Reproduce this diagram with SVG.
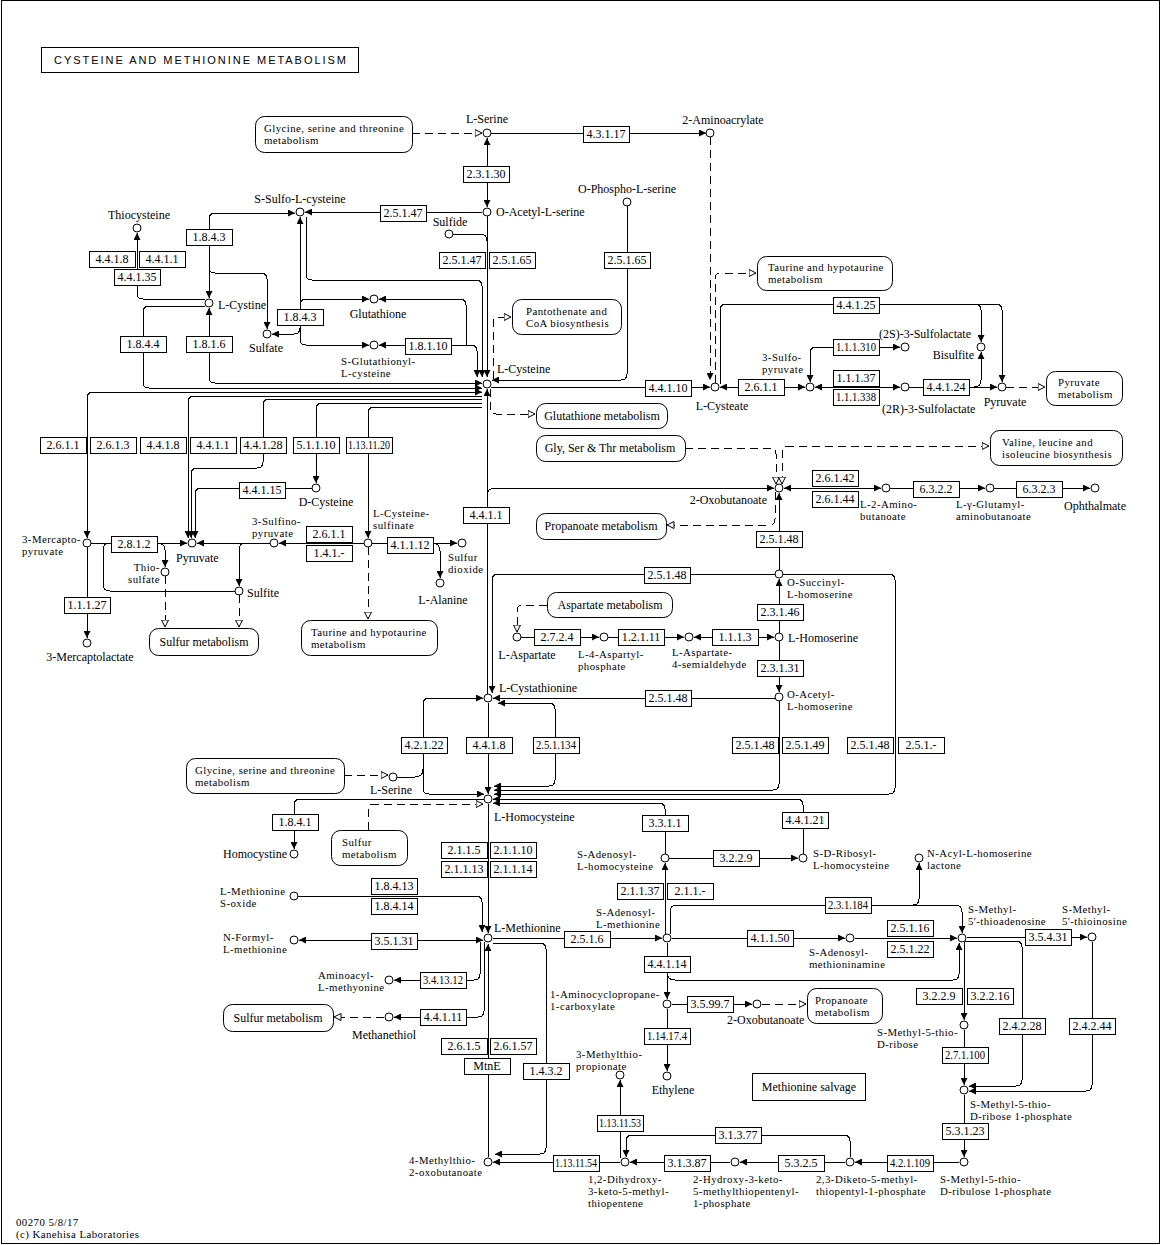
<svg xmlns="http://www.w3.org/2000/svg" width="1162" height="1245" viewBox="0 0 1162 1245">
<style>
text{font-family:"Liberation Serif","Times New Roman",serif;font-size:12px;fill:#000}
.ml{font-size:10.8px;letter-spacing:0.45px}
.mid{text-anchor:middle}
.end{text-anchor:end}
.en rect{fill:#fff;stroke:#000;stroke-width:1;shape-rendering:crispEdges}
.en text{text-anchor:middle}
.cp circle{fill:#fff;stroke:#000;stroke-width:1}
.mp rect{fill:#fff;stroke:#000;stroke-width:1}
#connectors path{fill:none;stroke:#000;stroke-width:1;shape-rendering:crispEdges}
#connectors .d{stroke-dasharray:8 5}
.ae{marker-end:url(#a)}
.as{marker-start:url(#a)}
.oe{marker-end:url(#o)}
.os{marker-start:url(#o)}
</style>
<defs>
<marker id="a" viewBox="0 0 7 7" refX="7" refY="3.5" markerWidth="7" markerHeight="7" markerUnits="userSpaceOnUse" orient="auto-start-reverse"><path d="M0,0L7,3.5L0,7z" fill="#000"/></marker>
<marker id="o" viewBox="0 0 8 8" refX="7.5" refY="4" markerWidth="8" markerHeight="8" markerUnits="userSpaceOnUse" orient="auto-start-reverse"><path d="M0.5,0.5L7.5,4L0.5,7.5z" fill="#fff" stroke="#000" stroke-width="1"/></marker>
</defs>
<rect x="1.5" y="0.5" width="1158" height="1243" fill="#fff" stroke="#000"/>
<g id="title"><rect x="41.5" y="47.5" width="317" height="25" fill="#fff" stroke="#000"/><text x="200" y="64" class="mid" style="font-family:'Liberation Sans',Arial,sans-serif;font-size:11px" textLength="292" lengthAdjust="spacing">CYSTEINE  AND  METHIONINE  METABOLISM</text></g>

<g id="connectors">
<path class="d oe" d="M412,133H482"/>
<path class="ae" d="M491,133H706"/>
<path class="as ae" d="M487,138V207"/>
<path class="ae" d="M482,212H305"/>
<path d="M453,234H480Q487,234 487,241"/>
<path class="ae" d="M487,216V377"/>
<path class="ae" d="M627,206V374Q627,380 621,380H492"/>
<path class="d ae" d="M710,137V380"/>
<path class="d oe" d="M715,383V279Q715,273 721,273H756"/>
<path class="ae" d="M720,384V310Q720,304 726,304H975Q981,304 981,310V342"/>
<path class="ae" d="M975,304H996Q1002,304 1002,310V382"/>
<path class="ae" d="M491,387H710"/>
<path class="as ae" d="M720,387H805"/>
<path class="as ae" d="M815,387H900"/>
<path class="as ae" d="M810,382V353Q810,347 816,347H900"/>
<path class="ae" d="M909,387H997"/>
<path class="ae" d="M974,387Q981,387 981,380V352"/>
<path class="d oe" d="M1006,387H1045"/>
<path class="ae" d="M137,269V233"/>
<path d="M137,285V293Q137,299 143,299H205"/>
<path class="as ae" d="M295,213H215Q209,213 209,219V298"/>
<path class="ae" d="M209,267Q209,273 215,273H261Q267,273 267,279V329"/>
<path class="as ae" d="M300,217V339Q300,345 306,345H369"/>
<path class="ae" d="M300,305Q300,299 306,299H369"/>
<path class="ae" d="M300,328Q300,334 294,334H272"/>
<path class="ae" d="M306,217V274Q306,280 312,280H476Q482,280 482,286V377"/>
<path class="as" d="M379,299H460Q466,299 466,305V345"/>
<path class="as ae" d="M379,345H471Q477,345 477,351V377"/>
<path class="as ae" d="M209,308V377Q209,383 215,383H482"/>
<path class="ae" d="M205,306H149Q143,306 143,312V382Q143,388 149,388H482"/>
<path class="as ae" d="M87,538V398Q87,392 93,392H482"/>
<path d="M482,396H194Q188,396 188,402V537"/>
<path class="ae" d="M188,500V538"/>
<path class="ae" d="M482,399H269Q263,399 263,405V462Q263,468 257,468H197Q191,468 191,474V538"/>
<path class="ae" d="M312,488H201Q195,488 195,494V538"/>
<path class="ae" d="M482,403H322Q316,403 316,409V483"/>
<path class="ae" d="M482,407H374Q368,407 368,413V538"/>
<path class="ae" d="M91,543H187"/>
<path class="ae" d="M157,543Q165,543 165,550V567"/>
<path d="M110,543Q103,543 103,550V584Q103,591 110,591H235"/>
<path class="ae" d="M270,543H197"/>
<path class="ae" d="M246,543Q239,543 239,550V586"/>
<path class="ae" d="M364,543H279"/>
<path class="ae" d="M372,543H457"/>
<path class="ae" d="M432,543Q440,543 440,551V578"/>
<path class="d oe" d="M368,547V619"/>
<path class="d oe" d="M165,576V627"/>
<path class="d oe" d="M239,595V627"/>
<path class="ae" d="M87,547V638"/>
<path class="d oe" d="M490,389V408Q490,414 496,414H535"/>
<path class="d oe" d="M493,379V323Q493,317 499,317H511"/>
<path class="as" d="M487,389V694"/>
<path class="ae" d="M487,496Q487,488 495,488H774"/>
<path class="d oe" d="M685,448H770Q776,448 776,454V484"/>
<path class="d os oe" d="M782,484V452Q782,446 788,446H989"/>
<path class="d oe" d="M775,492V519Q775,525 769,525H667"/>
<path class="ae" d="M779,570V493"/>
<path class="as ae" d="M784,488H881"/>
<path class="ae" d="M890,488H985"/>
<path class="ae" d="M994,488H1090"/>
<path class="ae" d="M775,574H498Q492,574 492,580V693"/>
<path class="ae" d="M783,574H889Q895,574 895,580V788Q895,794 889,794H494"/>
<path class="ae" d="M779,633V579"/>
<path class="ae" d="M779,641V692"/>
<path class="d oe" d="M547,605H523Q517,605 517,611V632"/>
<path class="ae" d="M521,637H599"/>
<path class="ae" d="M608,637H684"/>
<path class="as ae" d="M694,637H774"/>
<path class="ae" d="M775,698H493"/>
<path class="as ae" d="M498,703H549Q555,703 555,709V780Q555,786 549,786H494"/>
<path class="as ae" d="M483,698H429Q423,698 423,704V788Q423,794 429,794H484"/>
<path d="M397,777H415Q423,777 423,769"/>
<path class="d oe" d="M344,775H388"/>
<path class="ae" d="M488,703V794"/>
<path class="ae" d="M779,701V784Q779,790 773,790H494"/>
<path class="ae" d="M803,854V805Q803,799 797,799H493"/>
<path class="ae" d="M665,854V809Q665,803 659,803H493"/>
<path class="d oe" d="M368,830V810Q368,804 374,804H483"/>
<path class="ae" d="M484,799H300Q294,799 294,805V849"/>
<path class="ae" d="M488,804V933"/>
<path class="ae" d="M298,896H476Q482,896 482,902V932"/>
<path class="as ae" d="M299,940H483"/>
<path class="ae" d="M493,938H662"/>
<path class="ae" d="M665,934V863"/>
<path class="ae" d="M669,858H798"/>
<path class="ae" d="M670,934V912Q670,905 677,905H913Q919,905 919,899V863"/>
<path class="ae" d="M913,905H955Q962,905 962,912V933"/>
<path class="ae" d="M672,938H845"/>
<path class="ae" d="M855,938H957"/>
<path class="ae" d="M967,937H1087"/>
<path class="ae" d="M965,941H1016Q1022,941 1022,947V1080Q1022,1086 1016,1086H969"/>
<path class="ae" d="M1092,942V1085Q1092,1091 1086,1091H969"/>
<path class="ae" d="M964,942V1020"/>
<path class="ae" d="M667,972Q667,980 675,980H953Q959,980 959,974V943"/>
<path class="ae" d="M667,943V999"/>
<path class="ae" d="M672,1004H752"/>
<path class="d oe" d="M762,1004H806"/>
<path class="ae" d="M667,1009V1071"/>
<path class="ae" d="M964,1030V1085"/>
<path class="ae" d="M964,1095V1157"/>
<path class="ae" d="M959,1162H855"/>
<path class="ae" d="M845,1162H740"/>
<path class="ae" d="M850,1157V1141Q850,1135 844,1135H632Q626,1135 626,1141V1157"/>
<path class="ae" d="M730,1162H630"/>
<path class="ae" d="M620,1158V1080"/>
<path class="ae" d="M620,1162H493"/>
<path class="ae" d="M493,943H540Q546,943 546,949V1148Q546,1154 540,1154H495"/>
<path class="ae" d="M488,1157V944"/>
<path class="ae" d="M480,942V974Q480,980 474,980H394"/>
<path class="ae" d="M484,942V1011Q484,1017 478,1017H394"/>
<path class="d oe" d="M384,1017H334"/>
</g>

<g id="maps">
<g id="m_gst1" class="mp"><rect x="255.5" y="116.5" width="157" height="36" rx="9"/><text class="ml" x="264" y="132">Glycine, serine and threonine<tspan x="264" dy="12">metabolism</tspan></text></g>
<g id="m_tau1" class="mp"><rect x="757.5" y="256.5" width="135" height="34" rx="9"/><text class="ml" x="768" y="271">Taurine and hypotaurine<tspan x="768" dy="12">metabolism</tspan></text></g>
<g id="m_pant" class="mp"><rect x="512.5" y="299.5" width="109" height="35" rx="9"/><text class="ml" x="526" y="315">Pantothenate and<tspan x="526" dy="12">CoA biosynthesis</tspan></text></g>
<g id="m_pyr" class="mp"><rect x="1046.5" y="371.5" width="76" height="34" rx="9"/><text class="ml" x="1058" y="386">Pyruvate<tspan x="1058" dy="12">metabolism</tspan></text></g>
<g id="m_glu" class="mp"><rect x="536.5" y="403.5" width="131" height="25" rx="9"/><text x="602" y="420" class="mid">Glutathione metabolism</text></g>
<g id="m_gst2" class="mp"><rect x="536.5" y="435.5" width="149" height="26" rx="9"/><text x="610" y="452" class="mid">Gly, Ser &amp; Thr  metabolism</text></g>
<g id="m_val" class="mp"><rect x="990.5" y="430.5" width="132" height="35" rx="9"/><text class="ml" x="1002" y="446">Valine, leucine and<tspan x="1002" dy="12">isoleucine biosynthesis</tspan></text></g>
<g id="m_prop1" class="mp"><rect x="536.5" y="513.5" width="130" height="26" rx="9"/><text x="601" y="530" class="mid">Propanoate metabolism</text></g>
<g id="m_sul1" class="mp"><rect x="149.5" y="628.5" width="109" height="27" rx="9"/><text x="204" y="646" class="mid">Sulfur metabolism</text></g>
<g id="m_tau2" class="mp"><rect x="301.5" y="620.5" width="136" height="35" rx="9"/><text class="ml" x="311" y="636">Taurine and hypotaurine<tspan x="311" dy="12">metabolism</tspan></text></g>
<g id="m_asp" class="mp"><rect x="547.5" y="592.5" width="125" height="25" rx="9"/><text x="610" y="609" class="mid">Aspartate metabolism</text></g>
<g id="m_gst3" class="mp"><rect x="186.5" y="758.5" width="158" height="35" rx="9"/><text class="ml" x="195" y="774">Glycine, serine and threonine<tspan x="195" dy="12">metabolism</tspan></text></g>
<g id="m_sul2" class="mp"><rect x="331.5" y="830.5" width="76" height="35" rx="9"/><text class="ml" x="342" y="846">Sulfur<tspan x="342" dy="12">metabolism</tspan></text></g>
<g id="m_sul3" class="mp"><rect x="223.5" y="1004.5" width="110" height="27" rx="9"/><text x="278" y="1022" class="mid">Sulfur metabolism</text></g>
<g id="m_prop2" class="mp"><rect x="807.5" y="988.5" width="75" height="35" rx="9"/><text class="ml" x="815" y="1004">Propanoate<tspan x="815" dy="12">metabolism</tspan></text></g>
<g id="m_salv"><rect x="752.5" y="1073.5" width="113" height="27" fill="#fff" stroke="#000"/><text x="809" y="1091" class="mid">Methionine  salvage</text></g>
</g>

<g id="enzymes">
<g id="e01" class="en"><rect x="583" y="126" width="46" height="16"/><text x="606" y="138">4.3.1.17</text></g>
<g id="e02" class="en"><rect x="463" y="166" width="46" height="16"/><text x="486" y="178">2.3.1.30</text></g>
<g id="e03" class="en"><rect x="380" y="205" width="46" height="16"/><text x="403" y="217">2.5.1.47</text></g>
<g id="e04" class="en"><rect x="439" y="252" width="46" height="16"/><text x="462" y="264">2.5.1.47</text></g>
<g id="e05" class="en"><rect x="489" y="252" width="46" height="16"/><text x="512" y="264">2.5.1.65</text></g>
<g id="e06" class="en"><rect x="604" y="252" width="46" height="16"/><text x="627" y="264">2.5.1.65</text></g>
<g id="e07" class="en"><rect x="186" y="229" width="46" height="16"/><text x="209" y="241">1.8.4.3</text></g>
<g id="e08" class="en"><rect x="89" y="251" width="46" height="16"/><text x="112" y="263">4.4.1.8</text></g>
<g id="e09" class="en"><rect x="139" y="251" width="46" height="16"/><text x="162" y="263">4.4.1.1</text></g>
<g id="e10" class="en"><rect x="114" y="269" width="46" height="16"/><text x="137" y="281">4.4.1.35</text></g>
<g id="e11" class="en"><rect x="277" y="309" width="46" height="16"/><text x="300" y="321">1.8.4.3</text></g>
<g id="e12" class="en"><rect x="120" y="336" width="46" height="16"/><text x="143" y="348">1.8.4.4</text></g>
<g id="e13" class="en"><rect x="186" y="336" width="46" height="16"/><text x="209" y="348">1.8.1.6</text></g>
<g id="e14" class="en"><rect x="405" y="338" width="46" height="16"/><text x="428" y="350">1.8.1.10</text></g>
<g id="e15" class="en"><rect x="833" y="297" width="46" height="16"/><text x="856" y="309">4.4.1.25</text></g>
<g id="e16" class="en"><rect x="833" y="339" width="46" height="16"/><text x="856" y="351" textLength="40" lengthAdjust="spacingAndGlyphs">1.1.1.310</text></g>
<g id="e17" class="en"><rect x="645" y="380" width="46" height="16"/><text x="668" y="392">4.4.1.10</text></g>
<g id="e18" class="en"><rect x="738" y="379" width="46" height="16"/><text x="761" y="391">2.6.1.1</text></g>
<g id="e19" class="en"><rect x="833" y="370" width="46" height="16"/><text x="856" y="382">1.1.1.37</text></g>
<g id="e20" class="en"><rect x="833" y="389" width="46" height="16"/><text x="856" y="401" textLength="40" lengthAdjust="spacingAndGlyphs">1.1.1.338</text></g>
<g id="e21" class="en"><rect x="923" y="379" width="46" height="16"/><text x="946" y="391">4.4.1.24</text></g>
<g id="e22" class="en"><rect x="40" y="437" width="46" height="16"/><text x="63" y="449">2.6.1.1</text></g>
<g id="e23" class="en"><rect x="90" y="437" width="46" height="16"/><text x="113" y="449">2.6.1.3</text></g>
<g id="e24" class="en"><rect x="140" y="437" width="46" height="16"/><text x="163" y="449">4.4.1.8</text></g>
<g id="e25" class="en"><rect x="190" y="437" width="46" height="16"/><text x="213" y="449">4.4.1.1</text></g>
<g id="e26" class="en"><rect x="240" y="437" width="46" height="16"/><text x="263" y="449">4.4.1.28</text></g>
<g id="e27" class="en"><rect x="293" y="437" width="46" height="16"/><text x="316" y="449">5.1.1.10</text></g>
<g id="e28" class="en"><rect x="346" y="437" width="46" height="16"/><text x="369" y="449" textLength="42" lengthAdjust="spacingAndGlyphs">1.13.11.20</text></g>
<g id="e29" class="en"><rect x="239" y="482" width="46" height="16"/><text x="262" y="494">4.4.1.15</text></g>
<g id="e30" class="en"><rect x="111" y="536" width="46" height="16"/><text x="134" y="548">2.8.1.2</text></g>
<g id="e31" class="en"><rect x="306" y="526" width="46" height="16"/><text x="329" y="538">2.6.1.1</text></g>
<g id="e32" class="en"><rect x="306" y="545" width="46" height="16"/><text x="329" y="557">1.4.1.-</text></g>
<g id="e33" class="en"><rect x="387" y="537" width="46" height="16"/><text x="410" y="549">4.1.1.12</text></g>
<g id="e34" class="en"><rect x="64" y="597" width="46" height="16"/><text x="87" y="609">1.1.1.27</text></g>
<g id="e35" class="en"><rect x="463" y="507" width="46" height="16"/><text x="486" y="519">4.4.1.1</text></g>
<g id="e36" class="en"><rect x="812" y="470" width="46" height="16"/><text x="835" y="482">2.6.1.42</text></g>
<g id="e37" class="en"><rect x="812" y="491" width="46" height="16"/><text x="835" y="503">2.6.1.44</text></g>
<g id="e38" class="en"><rect x="913" y="481" width="46" height="16"/><text x="936" y="493">6.3.2.2</text></g>
<g id="e39" class="en"><rect x="1016" y="481" width="46" height="16"/><text x="1039" y="493">6.3.2.3</text></g>
<g id="e40" class="en"><rect x="756" y="531" width="46" height="16"/><text x="779" y="543">2.5.1.48</text></g>
<g id="e41" class="en"><rect x="644" y="567" width="46" height="16"/><text x="667" y="579">2.5.1.48</text></g>
<g id="e42" class="en"><rect x="757" y="604" width="46" height="16"/><text x="780" y="616">2.3.1.46</text></g>
<g id="e43" class="en"><rect x="534" y="629" width="46" height="16"/><text x="557" y="641">2.7.2.4</text></g>
<g id="e44" class="en"><rect x="618" y="629" width="46" height="16"/><text x="641" y="641">1.2.1.11</text></g>
<g id="e45" class="en"><rect x="712" y="629" width="46" height="16"/><text x="735" y="641">1.1.1.3</text></g>
<g id="e46" class="en"><rect x="757" y="660" width="46" height="16"/><text x="780" y="672">2.3.1.31</text></g>
<g id="e47" class="en"><rect x="645" y="690" width="46" height="16"/><text x="668" y="702">2.5.1.48</text></g>
<g id="e48" class="en"><rect x="401" y="737" width="46" height="16"/><text x="424" y="749">4.2.1.22</text></g>
<g id="e49" class="en"><rect x="466" y="737" width="46" height="16"/><text x="489" y="749">4.4.1.8</text></g>
<g id="e50" class="en"><rect x="533" y="737" width="46" height="16"/><text x="556" y="749" textLength="40" lengthAdjust="spacingAndGlyphs">2.5.1.134</text></g>
<g id="e51" class="en"><rect x="732" y="737" width="46" height="16"/><text x="755" y="749">2.5.1.48</text></g>
<g id="e52" class="en"><rect x="782" y="737" width="46" height="16"/><text x="805" y="749">2.5.1.49</text></g>
<g id="e53" class="en"><rect x="847" y="737" width="46" height="16"/><text x="870" y="749">2.5.1.48</text></g>
<g id="e54" class="en"><rect x="898" y="737" width="46" height="16"/><text x="921" y="749">2.5.1.-</text></g>
<g id="e55" class="en"><rect x="272" y="814" width="46" height="16"/><text x="295" y="826">1.8.4.1</text></g>
<g id="e56" class="en"><rect x="642" y="815" width="46" height="16"/><text x="665" y="827">3.3.1.1</text></g>
<g id="e57" class="en"><rect x="782" y="812" width="46" height="16"/><text x="805" y="824">4.4.1.21</text></g>
<g id="e58" class="en"><rect x="441" y="842" width="46" height="16"/><text x="464" y="854">2.1.1.5</text></g>
<g id="e59" class="en"><rect x="490" y="842" width="46" height="16"/><text x="513" y="854">2.1.1.10</text></g>
<g id="e60" class="en"><rect x="441" y="861" width="46" height="16"/><text x="464" y="873">2.1.1.13</text></g>
<g id="e61" class="en"><rect x="490" y="861" width="46" height="16"/><text x="513" y="873">2.1.1.14</text></g>
<g id="e62" class="en"><rect x="713" y="850" width="46" height="16"/><text x="736" y="862">3.2.2.9</text></g>
<g id="e63" class="en"><rect x="371" y="878" width="46" height="16"/><text x="394" y="890">1.8.4.13</text></g>
<g id="e64" class="en"><rect x="371" y="898" width="46" height="16"/><text x="394" y="910">1.8.4.14</text></g>
<g id="e65" class="en"><rect x="617" y="883" width="46" height="16"/><text x="640" y="895">2.1.1.37</text></g>
<g id="e66" class="en"><rect x="667" y="883" width="46" height="16"/><text x="690" y="895">2.1.1.-</text></g>
<g id="e67" class="en"><rect x="825" y="897" width="46" height="16"/><text x="848" y="909" textLength="40" lengthAdjust="spacingAndGlyphs">2.3.1.184</text></g>
<g id="e68" class="en"><rect x="887" y="920" width="46" height="16"/><text x="910" y="932">2.5.1.16</text></g>
<g id="e69" class="en"><rect x="887" y="941" width="46" height="16"/><text x="910" y="953">2.5.1.22</text></g>
<g id="e70" class="en"><rect x="371" y="933" width="46" height="16"/><text x="394" y="945">3.5.1.31</text></g>
<g id="e71" class="en"><rect x="564" y="931" width="46" height="16"/><text x="587" y="943">2.5.1.6</text></g>
<g id="e72" class="en"><rect x="747" y="930" width="46" height="16"/><text x="770" y="942">4.1.1.50</text></g>
<g id="e73" class="en"><rect x="1025" y="929" width="46" height="16"/><text x="1048" y="941">3.5.4.31</text></g>
<g id="e74" class="en"><rect x="644" y="956" width="46" height="16"/><text x="667" y="968">4.4.1.14</text></g>
<g id="e75" class="en"><rect x="420" y="972" width="46" height="16"/><text x="443" y="984" textLength="40" lengthAdjust="spacingAndGlyphs">3.4.13.12</text></g>
<g id="e76" class="en"><rect x="687" y="996" width="46" height="16"/><text x="710" y="1008">3.5.99.7</text></g>
<g id="e77" class="en"><rect x="916" y="988" width="46" height="16"/><text x="939" y="1000">3.2.2.9</text></g>
<g id="e78" class="en"><rect x="967" y="988" width="46" height="16"/><text x="990" y="1000">3.2.2.16</text></g>
<g id="e79" class="en"><rect x="420" y="1009" width="46" height="16"/><text x="443" y="1021">4.4.1.11</text></g>
<g id="e80" class="en"><rect x="999" y="1018" width="46" height="16"/><text x="1022" y="1030">2.4.2.28</text></g>
<g id="e81" class="en"><rect x="1069" y="1018" width="46" height="16"/><text x="1092" y="1030">2.4.2.44</text></g>
<g id="e82" class="en"><rect x="644" y="1028" width="46" height="16"/><text x="667" y="1040" textLength="40" lengthAdjust="spacingAndGlyphs">1.14.17.4</text></g>
<g id="e83" class="en"><rect x="441" y="1038" width="46" height="16"/><text x="464" y="1050">2.6.1.5</text></g>
<g id="e84" class="en"><rect x="490" y="1038" width="46" height="16"/><text x="513" y="1050">2.6.1.57</text></g>
<g id="e85" class="en"><rect x="942" y="1047" width="46" height="16"/><text x="965" y="1059" textLength="40" lengthAdjust="spacingAndGlyphs">2.7.1.100</text></g>
<g id="e86" class="en"><rect x="464" y="1058" width="46" height="16"/><text x="487" y="1070">MtnE</text></g>
<g id="e87" class="en"><rect x="523" y="1063" width="46" height="16"/><text x="546" y="1075">1.4.3.2</text></g>
<g id="e88" class="en"><rect x="597" y="1115" width="46" height="16"/><text x="620" y="1127" textLength="42" lengthAdjust="spacingAndGlyphs">1.13.11.53</text></g>
<g id="e89" class="en"><rect x="715" y="1127" width="46" height="16"/><text x="738" y="1139">3.1.3.77</text></g>
<g id="e90" class="en"><rect x="942" y="1123" width="46" height="16"/><text x="965" y="1135">5.3.1.23</text></g>
<g id="e91" class="en"><rect x="553" y="1155" width="46" height="16"/><text x="576" y="1167" textLength="42" lengthAdjust="spacingAndGlyphs">1.13.11.54</text></g>
<g id="e92" class="en"><rect x="664" y="1155" width="46" height="16"/><text x="687" y="1167">3.1.3.87</text></g>
<g id="e93" class="en"><rect x="778" y="1155" width="46" height="16"/><text x="801" y="1167">5.3.2.5</text></g>
<g id="e94" class="en"><rect x="887" y="1155" width="46" height="16"/><text x="910" y="1167" textLength="40" lengthAdjust="spacingAndGlyphs">4.2.1.109</text></g>
</g>

<g id="compounds">
<g id="c01" class="cp"><circle cx="487" cy="133" r="4"/><text x="487" y="123" class="mid">L-Serine</text></g>
<g id="c02" class="cp"><circle cx="710" cy="133" r="4"/><text x="723" y="124" class="mid">2-Aminoacrylate</text></g>
<g id="c03" class="cp"><circle cx="487" cy="212" r="4"/><text x="496" y="216">O-Acetyl-L-serine</text></g>
<g id="c04" class="cp"><circle cx="300" cy="212" r="4"/><text x="300" y="203" class="mid">S-Sulfo-L-cysteine</text></g>
<g id="c05" class="cp"><circle cx="449" cy="234" r="4"/><text x="450" y="226" class="mid">Sulfide</text></g>
<g id="c06" class="cp"><circle cx="627" cy="202" r="4"/><text x="627" y="193" class="mid">O-Phospho-L-serine</text></g>
<g id="c07" class="cp"><circle cx="137" cy="228" r="4"/><text x="139" y="219" class="mid">Thiocysteine</text></g>
<g id="c08" class="cp"><circle cx="209" cy="303" r="4"/><text x="218" y="309">L-Cystine</text></g>
<g id="c09" class="cp"><circle cx="267" cy="334" r="4"/><text x="266" y="352" class="mid">Sulfate</text></g>
<g id="c10" class="cp"><circle cx="374" cy="299" r="4"/><text x="378" y="318" class="mid">Glutathione</text></g>
<g id="c11" class="cp"><circle cx="374" cy="345" r="4"/><text class="ml" x="341" y="365">S-Glutathionyl-<tspan x="341" dy="12">L-cysteine</tspan></text></g>
<g id="c12" class="cp"><circle cx="487" cy="384" r="4"/><text x="497" y="373">L-Cysteine</text></g>
<g id="c13" class="cp"><circle cx="715" cy="387" r="4"/><text x="722" y="410" class="mid">L-Cysteate</text></g>
<g id="c14" class="cp"><circle cx="810" cy="387" r="4"/><text class="ml" x="762" y="361">3-Sulfo-<tspan x="762" dy="12">pyruvate</tspan></text></g>
<g id="c15" class="cp"><circle cx="905" cy="347" r="4"/><text x="879" y="338">(2S)-3-Sulfolactate</text></g>
<g id="c16" class="cp"><circle cx="905" cy="387" r="4"/><text x="882" y="413">(2R)-3-Sulfolactate</text></g>
<g id="c17" class="cp"><circle cx="981" cy="347" r="4"/><text x="974" y="359" class="end">Bisulfite</text></g>
<g id="c18" class="cp"><circle cx="1002" cy="387" r="4"/><text x="1005" y="406" class="mid">Pyruvate</text></g>
<g id="c19" class="cp"><circle cx="316" cy="488" r="4"/><text x="326" y="506" class="mid">D-Cysteine</text></g>
<g id="c20" class="cp"><circle cx="87" cy="543" r="4"/><text class="ml" x="22" y="543">3-Mercapto-<tspan x="22" dy="12">pyruvate</tspan></text></g>
<g id="c21" class="cp"><circle cx="192" cy="543" r="4"/><text x="176" y="562">Pyruvate</text></g>
<g id="c22" class="cp"><circle cx="165" cy="572" r="4"/><text class="ml end" x="160" y="571">Thio-<tspan x="160" dy="12">sulfate</tspan></text></g>
<g id="c23" class="cp"><circle cx="239" cy="591" r="4"/><text x="247" y="597">Sulfite</text></g>
<g id="c24" class="cp"><circle cx="274" cy="543" r="4"/><text class="ml" x="252" y="525">3-Sulfino-<tspan x="252" dy="12">pyruvate</tspan></text></g>
<g id="c25" class="cp"><circle cx="368" cy="543" r="4"/><text class="ml" x="373" y="517">L-Cysteine-<tspan x="373" dy="12">sulfinate</tspan></text></g>
<g id="c26" class="cp"><circle cx="462" cy="543" r="4"/><text class="ml" x="448" y="561">Sulfur<tspan x="448" dy="12">dioxide</tspan></text></g>
<g id="c27" class="cp"><circle cx="440" cy="583" r="4"/><text x="443" y="604" class="mid">L-Alanine</text></g>
<g id="c28" class="cp"><circle cx="87" cy="643" r="4"/><text x="90" y="661" class="mid">3-Mercaptolactate</text></g>
<g id="c29" class="cp"><circle cx="779" cy="488" r="4"/><text x="767" y="504" class="end">2-Oxobutanoate</text></g>
<g id="c30" class="cp"><circle cx="886" cy="488" r="4"/><text class="ml" x="860" y="508">L-2-Amino-<tspan x="860" dy="12">butanoate</tspan></text></g>
<g id="c31" class="cp"><circle cx="990" cy="488" r="4"/><text class="ml" x="956" y="508">L-γ-Glutamyl-<tspan x="956" dy="12">aminobutanoate</tspan></text></g>
<g id="c32" class="cp"><circle cx="1095" cy="488" r="4"/><text x="1064" y="510">Ophthalmate</text></g>
<g id="c33" class="cp"><circle cx="779" cy="574" r="4"/><text class="ml" x="787" y="586">O-Succinyl-<tspan x="787" dy="12">L-homoserine</tspan></text></g>
<g id="c34" class="cp"><circle cx="779" cy="637" r="4"/><text x="788" y="642">L-Homoserine</text></g>
<g id="c35" class="cp"><circle cx="779" cy="697" r="4"/><text class="ml" x="787" y="698">O-Acetyl-<tspan x="787" dy="12">L-homoserine</tspan></text></g>
<g id="c36" class="cp"><circle cx="517" cy="637" r="4"/><text x="527" y="659" class="mid">L-Aspartate</text></g>
<g id="c37" class="cp"><circle cx="604" cy="637" r="4"/><text class="ml" x="578" y="658">L-4-Aspartyl-<tspan x="578" dy="12">phosphate</tspan></text></g>
<g id="c38" class="cp"><circle cx="689" cy="637" r="4"/><text class="ml" x="672" y="656">L-Aspartate-<tspan x="672" dy="12">4-semialdehyde</tspan></text></g>
<g id="c39" class="cp"><circle cx="488" cy="698" r="4"/><text x="499" y="692">L-Cystathionine</text></g>
<g id="c40" class="cp"><circle cx="393" cy="777" r="4"/><text x="391" y="794" class="mid">L-Serine</text></g>
<g id="c41" class="cp"><circle cx="488" cy="799" r="4"/><text x="494" y="821">L-Homocysteine</text></g>
<g id="c42" class="cp"><circle cx="294" cy="854" r="4"/><text x="287" y="858" class="end">Homocystine</text></g>
<g id="c43" class="cp"><circle cx="665" cy="858" r="4"/><text class="ml" x="577" y="858">S-Adenosyl-<tspan x="577" dy="12">L-homocysteine</tspan></text></g>
<g id="c44" class="cp"><circle cx="803" cy="858" r="4"/><text class="ml" x="813" y="857">S-D-Ribosyl-<tspan x="813" dy="12">L-homocysteine</tspan></text></g>
<g id="c45" class="cp"><circle cx="919" cy="858" r="4"/><text class="ml" x="927" y="857">N-Acyl-L-homoserine<tspan x="927" dy="12">lactone</tspan></text></g>
<g id="c46" class="cp"><circle cx="294" cy="896" r="4"/><text class="ml" x="220" y="895">L-Methionine<tspan x="220" dy="12">S-oxide</tspan></text></g>
<g id="c47" class="cp"><circle cx="294" cy="940" r="4"/><text class="ml" x="223" y="941">N-Formyl-<tspan x="223" dy="12">L-methionine</tspan></text></g>
<g id="c48" class="cp"><circle cx="488" cy="938" r="4"/><text x="494" y="932">L-Methionine</text></g>
<g id="c49" class="cp"><circle cx="667" cy="938" r="4"/><text class="ml" x="596" y="916">S-Adenosyl-<tspan x="596" dy="12">L-methionine</tspan></text></g>
<g id="c50" class="cp"><circle cx="850" cy="938" r="4"/><text class="ml" x="809" y="956">S-Adenosyl-<tspan x="809" dy="12">methioninamine</tspan></text></g>
<g id="c51" class="cp"><circle cx="962" cy="938" r="4"/><text class="ml" x="968" y="913">S-Methyl-<tspan x="968" dy="12">5'-thioadenosine</tspan></text></g>
<g id="c52" class="cp"><circle cx="1092" cy="937" r="4"/><text class="ml" x="1062" y="913">S-Methyl-<tspan x="1062" dy="12">5'-thioinosine</tspan></text></g>
<g id="c53" class="cp"><circle cx="389" cy="980" r="4"/><text class="ml" x="318" y="979">Aminoacyl-<tspan x="318" dy="12">L-methyonine</tspan></text></g>
<g id="c54" class="cp"><circle cx="389" cy="1017" r="4"/><text x="352" y="1039">Methanethiol</text></g>
<g id="c55" class="cp"><circle cx="667" cy="1004" r="4"/><text class="ml" x="550" y="998">1-Aminocyclopropane-<tspan x="550" dy="12">1-carboxylate</tspan></text></g>
<g id="c56" class="cp"><circle cx="757" cy="1004" r="4"/><text x="727" y="1024">2-Oxobutanoate</text></g>
<g id="c57" class="cp"><circle cx="667" cy="1076" r="4"/><text x="673" y="1094" class="mid">Ethylene</text></g>
<g id="c58" class="cp"><circle cx="964" cy="1025" r="4"/><text class="ml" x="877" y="1036">S-Methyl-5-thio-<tspan x="877" dy="12">D-ribose</tspan></text></g>
<g id="c59" class="cp"><circle cx="964" cy="1090" r="4"/><text class="ml" x="970" y="1108">S-Methyl-5-thio-<tspan x="970" dy="12">D-ribose 1-phosphate</tspan></text></g>
<g id="c60" class="cp"><circle cx="964" cy="1162" r="4"/><text class="ml" x="940" y="1183">S-Methyl-5-thio-<tspan x="940" dy="12">D-ribulose 1-phosphate</tspan></text></g>
<g id="c61" class="cp"><circle cx="850" cy="1162" r="4"/><text class="ml" x="816" y="1183">2,3-Diketo-5-methyl-<tspan x="816" dy="12">thiopentyl-1-phosphate</tspan></text></g>
<g id="c62" class="cp"><circle cx="735" cy="1162" r="4"/><text class="ml" x="693" y="1183">2-Hydroxy-3-keto-<tspan x="693" dy="12">5-methylthiopentenyl-</tspan><tspan x="693" dy="12">1-phosphate</tspan></text></g>
<g id="c63" class="cp"><circle cx="625" cy="1162" r="4"/><text class="ml" x="588" y="1183">1,2-Dihydroxy-<tspan x="588" dy="12">3-keto-5-methyl-</tspan><tspan x="588" dy="12">thiopentene</tspan></text></g>
<g id="c64" class="cp"><circle cx="620" cy="1075" r="4"/><text class="ml" x="576" y="1058">3-Methylthio-<tspan x="576" dy="12">propionate</tspan></text></g>
<g id="c65" class="cp"><circle cx="488" cy="1162" r="4"/><text class="ml" x="409" y="1164">4-Methylthio-<tspan x="409" dy="12">2-oxobutanoate</tspan></text></g>
</g>

<g id="footer"><text class="ml" x="16" y="1226">00270 5/8/17<tspan x="16" dy="12">(c) Kanehisa Laboratories</tspan></text></g>
</svg>
